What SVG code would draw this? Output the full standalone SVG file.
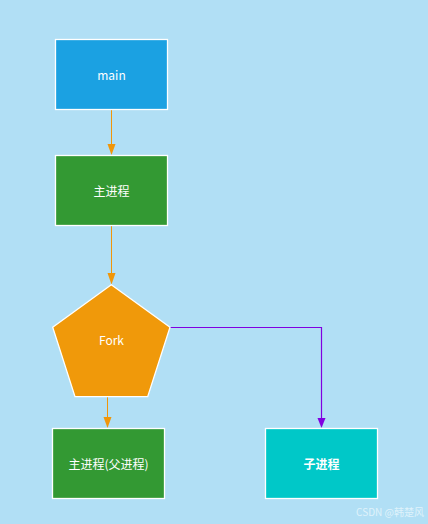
<svg xmlns="http://www.w3.org/2000/svg" width="428" height="524" viewBox="0 0 428 524">
<style>
.box{stroke:#ffffff;stroke-width:1.3}
.t{font-family:"Noto Sans CJK SC","Microsoft YaHei",sans-serif;font-size:12px;fill:#ffffff;text-anchor:middle;dominant-baseline:central}
.o{fill:none;stroke:#f09609;stroke-width:1}
.p{fill:none;stroke:#8000e0;stroke-width:1.2}
.ho{fill:#f09609}
.hp{fill:#8000e0}
</style>
<rect width="428" height="524" fill="#b1dff5"/>
<g id="connectors">
<line class="o" x1="111.5" y1="109.5" x2="111.5" y2="145"/>
<path class="ho" d="M107.5,144 L115.5,144 L111.5,155 Z"/>
<line class="o" x1="111.5" y1="225.5" x2="111.5" y2="274"/>
<path class="ho" d="M107.5,273 L115.5,273 L111.5,284.5 Z"/>
<line class="o" x1="107.5" y1="396.5" x2="107.5" y2="418"/>
<path class="ho" d="M103.5,417 L111.5,417 L107.5,428 Z"/>
<polyline class="p" points="170,327.5 321.5,327.5 321.5,419"/>
<path class="hp" d="M317.5,418 L325.5,418 L321.5,428 Z"/>
</g>
<g id="main">
<rect class="box" x="55.5" y="39.5" width="112" height="70" fill="#1ba1e2"/>
<text class="t" x="111.5" y="74" font-size="11">main</text>
</g>
<g id="mainproc">
<rect class="box" x="55.5" y="155.5" width="112" height="70" fill="#339933"/>
<text class="t" x="111.5" y="190">主进程</text>
</g>
<g id="fork">
<polygon class="box" points="111.3,284.7 170,327.3 147.7,396.7 75,396.7 52.7,327.3" fill="#f0990a"/>
<text class="t" x="111.5" y="339.5" font-size="11">Fork</text>
</g>
<g id="parent">
<rect class="box" x="52.5" y="428.5" width="112" height="70" fill="#339933"/>
<text class="t" x="108.5" y="463">主进程(父进程)</text>
</g>
<g id="child">
<rect class="box" x="265.5" y="428.5" width="112" height="70" fill="#00c8c8"/>
<text class="t" x="321.5" y="463" font-weight="bold">子进程</text>
</g>
<text x="424" y="511" text-anchor="end" dominant-baseline="central" font-family="Noto Sans CJK SC,sans-serif" font-size="10" fill="#ffffff" fill-opacity="0.6">CSDN @韩楚风</text>
</svg>
